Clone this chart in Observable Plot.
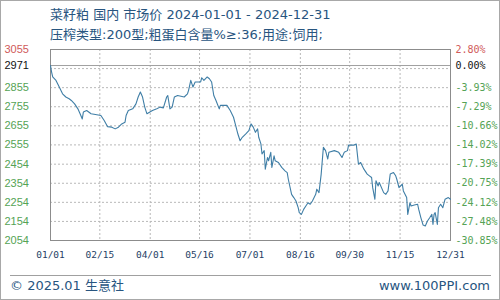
<!DOCTYPE html>
<html>
<head>
<meta charset="utf-8">
<script src="https://cdn.jsdelivr.net/npm/d3@7"></script>
<script src="https://cdn.jsdelivr.net/npm/@observablehq/plot@0.6"></script>
<style>
  body { margin: 0; background: #fff; }
  #wrap { position: relative; width: 500px; height: 300px; overflow: hidden; background: #fff; }
  #border { position: absolute; left: 0; top: 0; width: 498px; height: 298px; border: 1px solid #a8a8a8; pointer-events: none; }
  .cap { position: absolute; font-family: "DejaVu Sans", "Noto Sans CJK SC", sans-serif; font-size: 13px; color: #28557f; white-space: nowrap; line-height: 1; }
  #rule { position: absolute; left: 10px; top: 275px; width: 481px; height: 0; border-top: 1px solid #a0a0a0; }
  #chart { position: absolute; left: 0; top: 0; }
</style>
</head>
<body>
<div id="wrap">
  <div id="chart"></div>
  <div class="cap" id="t1" style="left:50px; top:8px;"></div>
  <div class="cap" id="t2" style="left:50px; top:28px;"></div>
  <div id="rule"></div>
  <div class="cap" id="f1" style="left:10px; top:279px;"></div>
  <div class="cap" id="f2" style="right:10px; top:279px;"></div>
  <div id="border"></div>
</div>
<script>
// 菜籽粕 market price, 2024
const dates = [
  "2024-01-01","2024-01-02","2024-01-03","2024-01-06","2024-01-09","2024-01-12","2024-01-15","2024-01-18","2024-01-20","2024-01-23",
  "2024-01-26","2024-01-28","2024-01-30","2024-01-31","2024-02-03","2024-02-07","2024-02-11","2024-02-16","2024-02-19","2024-02-22",
  "2024-02-26","2024-02-29","2024-03-03","2024-03-06","2024-03-09","2024-03-10","2024-03-12","2024-03-16","2024-03-19","2024-03-21",
  "2024-03-23","2024-03-25","2024-03-27","2024-03-29","2024-04-03","2024-04-07","2024-04-10","2024-04-13","2024-04-16","2024-04-17",
  "2024-04-19","2024-04-21","2024-04-23","2024-04-26","2024-05-02","2024-05-05","2024-05-06","2024-05-08","2024-05-10","2024-05-12",
  "2024-05-17","2024-05-18","2024-05-20","2024-05-23","2024-05-25","2024-05-27","2024-05-29","2024-05-31","2024-06-03","2024-06-04",
  "2024-06-07","2024-06-10","2024-06-13","2024-06-16","2024-06-18","2024-06-20","2024-06-22","2024-06-24","2024-06-27","2024-06-30",
  "2024-07-02","2024-07-04","2024-07-06","2024-07-08","2024-07-09","2024-07-11","2024-07-12","2024-07-14","2024-07-15","2024-07-17",
  "2024-07-18","2024-07-20","2024-07-21","2024-07-23","2024-07-24","2024-07-27","2024-07-30","2024-08-02","2024-08-04","2024-08-05",
  "2024-08-08","2024-08-10","2024-08-12","2024-08-14","2024-08-15","2024-08-17","2024-08-19","2024-08-21","2024-08-23","2024-08-25",
  "2024-08-27","2024-08-30","2024-08-31","2024-09-02","2024-09-04","2024-09-06","2024-09-08","2024-09-10","2024-09-11","2024-09-16",
  "2024-09-20","2024-09-23","2024-09-25","2024-09-28","2024-09-29","2024-10-04","2024-10-06","2024-10-08","2024-10-10","2024-10-13",
  "2024-10-16","2024-10-18","2024-10-20","2024-10-21","2024-10-23","2024-10-24","2024-10-26","2024-10-27","2024-10-31","2024-11-02",
  "2024-11-04","2024-11-06","2024-11-09","2024-11-11","2024-11-12","2024-11-14","2024-11-17","2024-11-18","2024-11-21","2024-11-22",
  "2024-11-24","2024-11-25","2024-11-28","2024-12-01","2024-12-02","2024-12-04","2024-12-06","2024-12-08","2024-12-10","2024-12-12",
  "2024-12-14","2024-12-15","2024-12-16","2024-12-17","2024-12-19","2024-12-20","2024-12-22","2024-12-24","2024-12-26","2024-12-29",
  "2024-12-31"
];
const prices = [
  2971,2937,2911,2893,2858,2823,2806,2797,2788,2770,
  2744,2718,2691,2727,2735,2718,2714,2709,2683,2651,
  2648,2639,2648,2665,2674,2709,2735,2744,2770,2806,
  2832,2806,2753,2718,2735,2744,2753,2749,2806,2814,
  2744,2753,2806,2814,2806,2823,2841,2893,2858,2885,
  2885,2907,2893,2911,2902,2885,2814,2788,2744,2762,
  2762,2762,2735,2700,2656,2612,2577,2595,2612,2630,
  2665,2648,2621,2639,2595,2560,2507,2525,2428,2489,
  2472,2516,2437,2498,2472,2463,2437,2419,2410,2375,
  2296,2279,2261,2226,2200,2191,2217,2235,2252,2244,
  2261,2296,2323,2305,2402,2542,2525,2481,2516,2525,
  2516,2489,2516,2525,2554,2554,2560,2454,2463,2428,
  2402,2393,2384,2331,2270,2367,2340,2358,2305,2296,
  2314,2402,2410,2393,2375,2331,2349,2314,2279,2191,
  2252,2235,2240,2244,2217,2173,2135,2130,2156,2173,
  2191,2138,2191,2200,2138,2226,2244,2226,2270,2279,
  2270
];

// axis ticks
const xTicks = ["2024-01-01","2024-02-15","2024-04-01","2024-05-16","2024-07-01","2024-08-16","2024-09-30","2024-11-15","2024-12-31"];
const yTicks = [3055, 2971, 2855, 2755, 2655, 2555, 2454, 2354, 2254, 2154, 2054];
const pctLabels = ["2.80%", "0.00%", "-3.93%", "-7.29%", "-10.66%", "-14.02%", "-17.39%", "-20.75%", "-24.12%", "-27.48%", "-30.85%"];
const yGrid = [2955, 2855, 2755, 2655, 2555, 2454, 2354, 2254, 2154];
const basePrice = 2971;

const title1 = "菜籽粕 国内 市场价 2024-01-01 - 2024-12-31";
const title2 = "压榨类型:200型;粗蛋白含量%≥:36;用途:饲用;";
const footLeft = "© 2025.01 生意社";
const footRight = "www.100PPI.com";

document.getElementById("t1").textContent = title1;
document.getElementById("t2").textContent = title2;
document.getElementById("f1").textContent = footLeft;
document.getElementById("f2").textContent = footRight;

const series = dates.map((d, i) => ({date: new Date(d), price: prices[i]}));
const xTickDates = xTicks.map(d => new Date(d));
const yRows = yTicks.map((v, i) => ({v, pct: pctLabels[i], i}));
const tickColor = r => r.i === 0 ? "#d05a5a" : r.v === basePrice ? "#111" : "#55a355";

const chart = Plot.plot({
  width: 500,
  height: 300,
  marginTop: 49,
  marginBottom: 60,
  marginLeft: 50,
  marginRight: 50,
  style: {background: "transparent", overflow: "visible"},
  x: {type: "utc", domain: [xTickDates[0], xTickDates[xTickDates.length - 1]], axis: null},
  y: {domain: [yTicks[yTicks.length - 1], yTicks[0]], axis: null},
  marks: [
    Plot.gridX(xTickDates.slice(1, -1), {stroke: "#b8b8b8", strokeOpacity: 1, strokeDasharray: "2,2"}),
    Plot.gridY(yGrid, {stroke: "#b8b8b8", strokeOpacity: 1, strokeDasharray: "2,2"}),
    Plot.ruleY([basePrice], {stroke: "#a0a0a0"}),
    Plot.frame({stroke: "#8c8c8c"}),
    Plot.line(series, {x: "date", y: "price", stroke: "#3f7ea6", strokeWidth: 1.1}),
    Plot.text(yRows, {
      y: "v", text: r => String(r.v), frameAnchor: "left", dx: -46, textAnchor: "start",
      fill: tickColor, fontFamily: "Liberation Sans, sans-serif", fontSize: 11
    }),
    Plot.text(yRows, {
      y: "v", text: "pct", frameAnchor: "right", dx: 5, textAnchor: "start",
      fill: tickColor, fontFamily: "DejaVu Sans Mono, monospace", fontSize: 10
    }),
    Plot.text(xTickDates, {
      x: d => d, text: d3.utcFormat("%m/%d"), frameAnchor: "bottom", dy: 17,
      fill: "#1f3f66", fontFamily: "DejaVu Sans Mono, monospace", fontSize: 9.5
    })
  ]
});
document.getElementById("chart").appendChild(chart);
</script>
</body>
</html>
